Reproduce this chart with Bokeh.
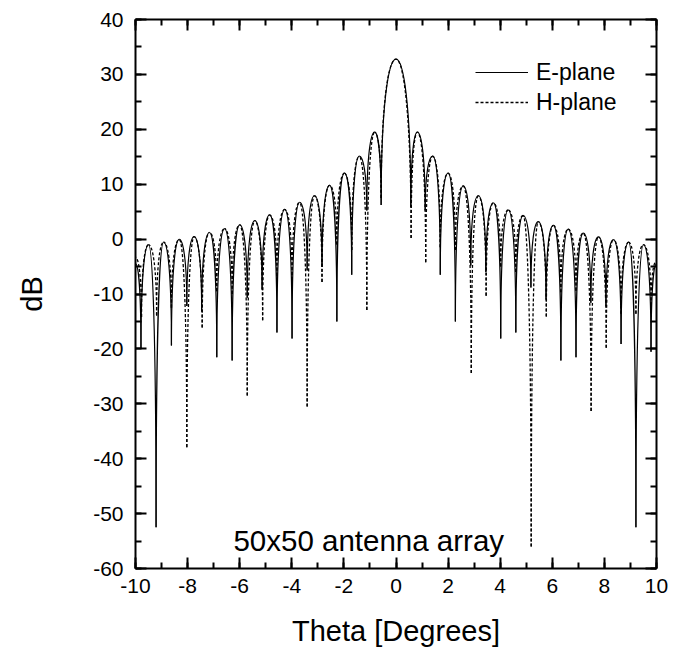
from bokeh.plotting import figure
from bokeh.models import (Range1d, LinearAxis, SingleIntervalTicker, Legend,
                          LegendItem, Label, ColumnDataSource,
                          NumeralTickFormatter)
from bokeh.embed import file_html
from bokeh.resources import INLINE

# ---- data (lobe maxima and nulls, dB) ----
theta_peaks = [-10.0, -9.50, -8.92, -8.32, -7.75, -7.16, -6.58, -6.00, -5.42,
               -4.85, -4.27, -3.70, -3.13, -2.55, -1.98, -1.41, -0.82, 0.0,
               0.82, 1.41, 2.00, 2.58, 3.16, 3.74, 4.31, 4.88, 5.46, 6.04,
               6.61, 7.19, 7.77, 8.35, 8.93, 9.50, 10.0]
e_peaks_db = [-4.5, -1.0, -0.55, -0.05, 0.45, 1.2, 1.9, 2.6, 3.35,
              4.4, 5.4, 6.7, 7.9, 9.8, 12.0, 15.1, 19.5, 32.8,
              19.5, 15.1, 12.0, 9.7, 7.9, 6.6, 5.3, 4.3, 3.2, 2.5,
              1.8, 1.1, 0.4, -0.1, -0.55, -1.0, -4.5]
h_peaks_db = [-3.3, -1.0, -0.55, -0.05, 0.45, 1.2, 1.9, 2.6, 3.35,
              4.4, 5.4, 6.7, 7.9, 9.8, 12.0, 15.1, 19.5, 32.8,
              19.5, 15.1, 12.0, 9.7, 7.9, 6.6, 5.3, 4.3, 3.2, 2.5,
              1.8, 1.1, 0.4, -0.1, -0.55, -1.0, -4.0]

theta_nulls_e = [-9.79, -9.21, -8.62, -8.03, -7.46, -6.88, -6.29, -5.71, -5.14,
                 -4.57, -3.99, -3.41, -2.84, -2.27, -1.70, -1.12, -0.57,
                 0.57, 1.12, 1.70, 2.28, 2.87, 3.45, 4.02, 4.60, 5.18, 5.76,
                 6.33, 6.91, 7.48, 8.06, 8.64, 9.21, 9.79]
e_nulls_db = [-20.0, -52.5, -19.4, -12.2, -13.2, -21.5, -22.1, -10.7, -9.2,
              -17.0, -18.1, -5.7, -5.1, -15.0, -6.5, 5.2, 6.2,
              5.8, 5.2, -6.5, -15.0, -4.8, -6.0, -18.1, -17.0, -8.8, -11.0,
              -22.1, -21.5, -11.6, -12.1, -19.1, -52.5, -20.5]

theta_nulls_h = [-9.77, -9.19, -8.62, -8.03, -7.44, -6.88, -6.29, -5.71, -5.12,
                 -4.57, -3.99, -3.41, -2.84, -2.27, -1.70, -1.12, -0.57,
                 0.58, 1.14, 1.70, 2.28, 2.89, 3.46, 4.02, 4.60, 5.19, 5.77,
                 6.33, 6.91, 7.49, 8.07, 8.64, 9.21, 9.79]
h_nulls_db = [-14.2, -13.9, -12.5, -37.9, -16.1, -9.5, -10.0, -28.5, -14.8,
              -6.7, -7.5, -30.5, -7.8, -1.0, -2.0, -12.9, 7.5,
              0.2, -4.2, -1.5, -2.0, -24.4, -10.3, -5.0, -6.0, -56.0, -14.1,
              -9.7, -9.4, -31.3, -19.8, -13.6, -13.6, -12.1]

x_ticks_step = 2
y_ticks_step = 10

FONT = "Liberation Sans"


def lobe_source(tp, vp, tn, vn, a=0.7, b=0.5):
    """Curve pieces from each null up to its two neighbouring maxima."""
    d = dict(x0=[], y0=[], x1=[], y1=[], cx0=[], cy0=[], cx1=[], cy1=[])
    for i in range(len(tn)):
        for pt, pv in ((tp[i], vp[i]), (tp[i + 1], vp[i + 1])):
            d["x0"].append(tn[i]); d["y0"].append(vn[i])
            d["x1"].append(pt); d["y1"].append(pv)
            d["cx0"].append(tn[i]); d["cy0"].append(vn[i] + a * (pv - vn[i]))
            d["cx1"].append(pt - b * (pt - tn[i])); d["cy1"].append(pv)
    return ColumnDataSource(d)


p = figure(frame_width=521, frame_height=549,
           x_range=Range1d(-10, 10), y_range=Range1d(-60, 40),
           output_backend="svg", toolbar_location=None,
           min_border_left=135, min_border_right=21,
           min_border_top=19, min_border_bottom=86)
p.grid.visible = False
p.outline_line_color = None
p.background_fill_color = "white"
p.border_fill_color = "white"

src_e = lobe_source(theta_peaks, e_peaks_db, theta_nulls_e, e_nulls_db)
src_h = lobe_source(theta_peaks, h_peaks_db, theta_nulls_h, h_nulls_db)

r_h = p.bezier(x0="x0", y0="y0", x1="x1", y1="y1", cx0="cx0", cy0="cy0",
               cx1="cx1", cy1="cy1", source=src_h, line_color="black",
               line_width=1.3, line_dash="3 2")
r_e = p.bezier(x0="x0", y0="y0", x1="x1", y1="y1", cx0="cx0", cy0="cy0",
               cx1="cx1", cy1="cy1", source=src_e, line_color="black",
               line_width=1.2)

xax = p.below[0]
yax = p.left[0]
xax.ticker = SingleIntervalTicker(interval=x_ticks_step, num_minor_ticks=2)
yax.ticker = SingleIntervalTicker(interval=y_ticks_step, num_minor_ticks=2)
xax.formatter = NumeralTickFormatter(format="0")
yax.formatter = NumeralTickFormatter(format="0")
xax.axis_label = "Theta [Degrees]"
yax.axis_label = "dB"

top = LinearAxis(ticker=SingleIntervalTicker(interval=x_ticks_step, num_minor_ticks=2))
right = LinearAxis(ticker=SingleIntervalTicker(interval=y_ticks_step, num_minor_ticks=2))
p.add_layout(top, "above")
p.add_layout(right, "right")

for ax in (xax, yax, top, right):
    ax.axis_line_width = 2
    ax.axis_line_color = "black"
    ax.major_tick_in = 11
    ax.major_tick_out = 0
    ax.minor_tick_in = 6
    ax.minor_tick_out = 0
    ax.major_tick_line_width = 2
    ax.minor_tick_line_width = 2
    ax.major_tick_line_color = "black"
    ax.minor_tick_line_color = "black"
    ax.major_label_text_font = FONT
    ax.major_label_text_font_size = "21px"
    ax.major_label_text_color = "black"
    ax.axis_label_text_font = FONT
    ax.axis_label_text_font_size = "29px"
    ax.axis_label_text_font_style = "normal"
    ax.axis_label_text_color = "black"

for ax in (top, right):
    ax.major_label_text_font_size = "0px"
    ax.major_label_text_color = None
    ax.major_label_standoff = 0

xax.major_label_standoff = 10
xax.axis_label_standoff = 19
yax.major_label_standoff = 12
yax.axis_label_standoff = 42

legend = Legend(items=[LegendItem(label="E-plane", renderers=[r_e]),
                       LegendItem(label="H-plane", renderers=[r_h])],
                location="top_right", border_line_color=None,
                background_fill_alpha=0, padding=0, margin=38,
                glyph_width=53, glyph_height=30, label_height=30,
                label_width=82, spacing=0, label_standoff=8,
                label_text_font=FONT, label_text_font_size="23px",
                label_text_color="black")
p.add_layout(legend)

p.add_layout(Label(x=-6.24, y=-54.9, text="50x50 antenna array",
                   text_font=FONT, text_font_size="29.5px",
                   text_baseline="alphabetic", text_color="black"))

open("out.html", "w").write(file_html(p, INLINE))
